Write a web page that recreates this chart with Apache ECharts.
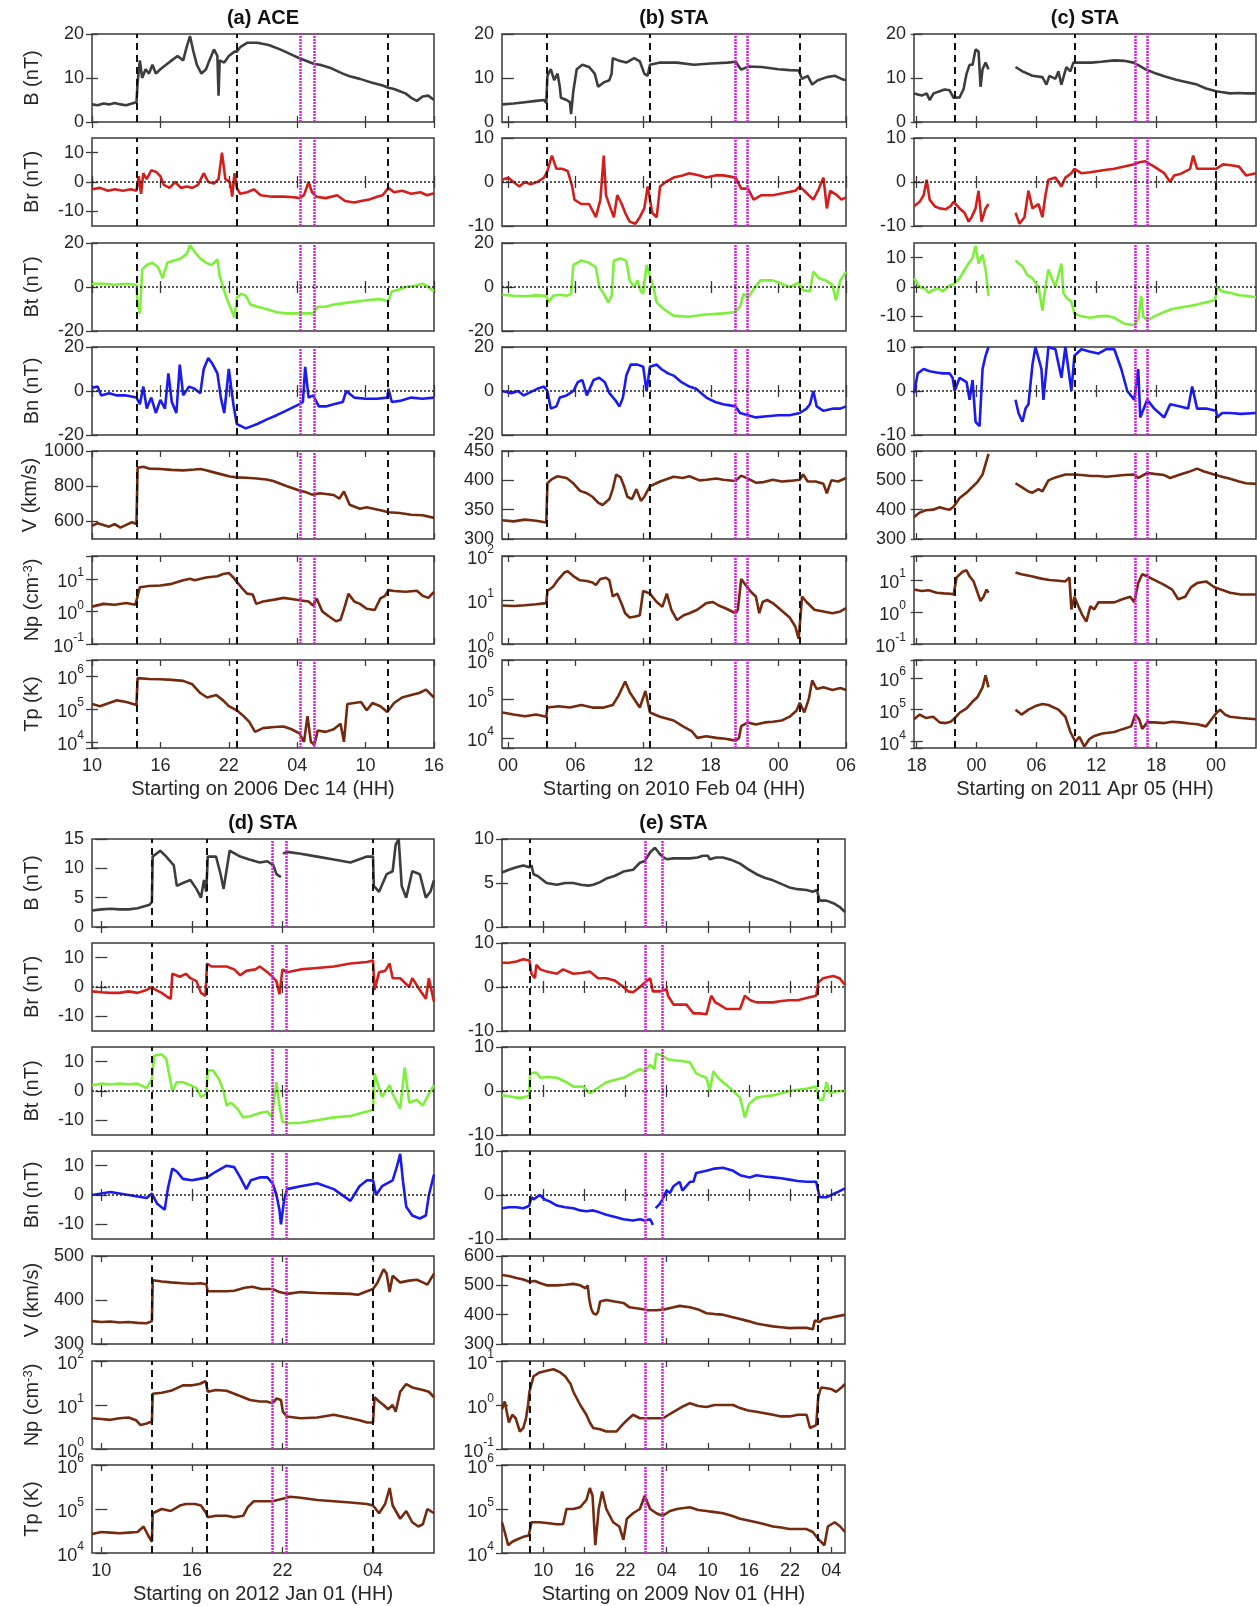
<!DOCTYPE html>
<html><head><meta charset="utf-8">
<script src="https://cdn.jsdelivr.net/npm/echarts@6/dist/echarts.min.js"></script>
<style>html,body{margin:0;padding:0;background:#fff}#c{width:1257px;height:1606px}</style>
</head><body><div id="c"></div>
<script>
// ---------------- DATA (hours from panel start, value) ----------------
// Panel (a) ACE, x: hours from 2006 Dec 14 10:00
const a_B = [[0,4],[0.5,3.8],[1,4.2],[1.5,4],[2,4.3],[2.5,4],[3,3.8],[3.5,4.2],[3.9,4.5],[4,9],[4.2,14],[4.4,10],[4.7,12],[5,11],[5.3,13],[5.6,11],[6,12],[6.5,13],[7,14],[7.5,15],[8,14],[8.3,17],[8.6,19.5],[8.9,16],[9.2,13],[9.6,11],[10,12],[10.3,14],[10.7,16.5],[11,15],[11.1,6],[11.2,14],[11.6,13.5],[12,15],[12.5,16],[12.7,16],[13,17],[13.6,18],[14.5,18],[15.5,17.5],[16.5,16.5],[17.5,15.3],[18.2,14.5],[19.5,13.2],[20,13],[21,12.2],[22,11],[22.6,10.4],[23.5,9.8],[24.5,9],[25.5,8.3],[26,7.8],[26.5,7.5],[27,7],[27.5,6.5],[28,5.5],[28.5,4.8],[29,5.8],[29.5,6],[30,5]];
const a_Br = [[0,-2.5],[0.7,-2],[1.4,-3],[2,-2.5],[2.7,-3],[3.4,-2.5],[3.9,-3],[4.1,2],[4.3,-4],[4.5,3],[4.8,1],[5.2,4],[5.6,3.5],[6,2],[6.3,-1],[6.8,-2],[7.3,0],[7.8,-2],[8.3,-1.5],[8.8,-2],[9.3,-1],[9.8,3],[10.2,0],[10.7,-0.5],[11.1,1],[11.4,10],[11.7,1],[12.1,0],[12.3,-5],[12.5,3],[12.7,-2],[13,-4],[13.6,-3.5],[14.2,-2.5],[14.8,-4.5],[15.8,-5],[16.8,-5],[17.7,-5.2],[18.2,-5.5],[18.6,-4.5],[19,0],[19.3,-3.5],[19.7,-5],[20.5,-5.5],[21.5,-4.5],[22.2,-6.5],[23,-7],[23.6,-6.5],[24.3,-6],[25,-5],[25.5,-4.5],[26,-2],[26.5,-3.5],[27.2,-3],[28,-4],[28.8,-3.5],[29.4,-4.5],[30,-3.8]];
const a_Bt = [[0,1.5],[1,1.5],[2,1],[3,1.5],[3.9,1],[4,-8],[4.2,-12],[4.4,8],[4.8,10],[5.3,11],[5.8,9],[6.2,4],[6.6,11],[7.2,12],[7.8,13],[8.3,15],[8.6,19],[9,16],[9.5,13],[10,11],[10.5,10],[11,12.5],[11.2,5],[11.5,0],[11.8,-5],[12.2,-10],[12.5,-14],[12.7,-5],[13.1,-3],[13.5,-4],[13.9,-8],[14.5,-9],[15.3,-10],[16.2,-11.5],[17,-12],[18.2,-12],[19.4,-12],[19.8,-9],[20.5,-9],[21.2,-8],[22.6,-7],[24.1,-6],[25.2,-5.5],[26,-6.5],[26.3,-2],[27,-1],[27.5,0],[28.3,0.5],[29,1.5],[29.5,0],[30,-2]];
const a_Bn = [[0,1.5],[0.5,2],[0.8,-2],[1.5,-1],[2.2,-2],[3,-2],[3.9,-3],[4.2,-6],[4.5,2],[4.8,-8],[5.2,-3],[5.6,-10],[6,-4],[6.4,-8],[6.7,8],[7,-5],[7.4,-10],[7.7,12],[8,-2],[8.5,2],[9,1],[9.5,-1],[9.8,10],[10.2,15],[10.6,12],[11,8],[11.3,-3],[11.6,-10],[12,10],[12.4,-6],[12.7,-15],[13.5,-17],[14.5,-15],[15.3,-13],[16.2,-11],[17,-9],[18.2,-6],[18.5,-5],[18.7,11],[19,-3],[19.4,-2],[19.9,-7],[20.5,-7],[21.2,-6],[22,-5],[22.3,0],[23,-3],[24,-3.5],[25,-3.5],[25.9,-3],[26,1],[26.3,-5],[27,-4.5],[28,-3],[29,-3.5],[30,-3]];
const a_V = [[0,575],[0.5,590],[1,580],[1.5,570],[2,585],[2.5,565],[3,580],[3.5,595],[3.9,585],[4,905],[4.5,910],[5,900],[6,898],[7,893],[8,890],[9,895],[9.5,898],[10,890],[10.6,880],[11.2,870],[12.1,855],[12.7,850],[13.5,848],[14.2,845],[15.3,838],[15.9,830],[17.1,800],[18.2,775],[18.8,765],[19.3,752],[20,760],[21.2,750],[21.7,730],[22.1,770],[22.6,695],[23.5,672],[24.1,680],[24.8,670],[25.5,660],[26,652],[27,648],[28,638],[29,635],[30,620]];
const a_Np = [[0,1.4],[1,1.7],[2,1.6],[3,1.8],[3.8,1.6],[3.95,2.5],[4.2,5.5],[5,6],[6,6.2],[7,7],[8,9],[8.6,10],[9,9],[10,11],[11,12],[11.5,14],[12,15],[12.4,11],[12.7,8],[13.2,5],[13.6,3.5],[14.1,3.3],[14.4,1.7],[15,2],[16,2.3],[16.8,2.6],[17.5,2.4],[18.2,2.2],[19,2],[19.4,1.5],[19.7,2.5],[20.2,1],[20.8,0.7],[21.4,0.5],[21.8,0.55],[22.2,1.5],[22.5,3.5],[23,2],[23.5,1.7],[24.1,1.2],[24.8,1.1],[25.3,2.5],[25.7,3],[26,4.5],[26.5,4.2],[27.5,4],[28.5,4.3],[29,3],[29.5,2.6],[30,4]];
const a_Tp = [[0,1.4e5],[0.7,1.2e5],[1.5,1.5e5],[2.2,1.8e5],[3,1.6e5],[3.9,1.3e5],[4,8.5e5],[5,8e5],[6,7.8e5],[7,7.5e5],[8,7e5],[8.8,5.5e5],[9.5,3e5],[10.1,2.2e5],[10.9,2.6e5],[11.5,1.8e5],[12,1.2e5],[12.7,9e4],[13.3,6e4],[13.8,4e4],[14.3,2e4],[15,2.6e4],[16,2.8e4],[16.8,2.9e4],[17.5,2.4e4],[18.2,1.8e4],[18.6,1e4],[18.9,6e4],[19.2,1e4],[19.5,8e3],[19.8,2.2e4],[20.5,2e4],[21.2,2.4e4],[21.8,3.5e4],[22.1,1e4],[22.4,1.4e5],[23,1.5e5],[23.6,1.6e5],[24.1,9e4],[24.6,1.5e5],[25.3,1.2e5],[25.9,8e4],[26.5,1.5e5],[27.2,2.2e5],[28,2.6e5],[28.7,3e5],[29.3,3.8e5],[30,2.2e5]];

// Panel (b) STA, x: hours from 2010 Feb 04 00:00
const b_B = [[-0.5,4],[0.5,4.2],[1.5,4.5],[2.5,4.8],[3.2,5],[3.4,4.3],[3.5,10.5],[3.8,12],[4.1,9.5],[4.4,11],[4.6,8],[4.7,5.5],[5.2,5],[5.5,4.5],[5.6,1.8],[5.8,7],[6.1,12],[6.6,13],[7.2,12.5],[7.7,11],[8,8],[8.5,9],[9,9.5],[9.2,11],[9.3,14.5],[9.8,14],[10.5,13.5],[11.2,14.5],[11.7,13.8],[12.1,11],[12.4,10.5],[12.6,13],[13.5,13.5],[15,13.5],[16.5,13],[18,13.3],[19.5,13.5],[20.2,13.7],[20.7,11.9],[21.3,12.6],[22.5,12.5],[24,12],[25,11.8],[25.8,11.7],[26.1,9.8],[26.6,10.5],[27,8.5],[27.5,9.5],[28.3,10.2],[29,10.5],[29.6,9.8],[30,9.5]];
const b_Br = [[-0.5,0.5],[0,1],[0.5,0],[1,-1],[1.5,0],[2,-0.5],[2.6,0],[3.2,1],[3.5,2.5],[3.9,6],[4.3,3],[4.8,3],[5.3,2.5],[5.7,-1],[5.9,-4],[6.5,-5],[7.2,-5],[7.8,-8],[8.2,-4],[8.5,6],[8.7,-3],[9.1,-6],[9.4,-8],[9.7,-3],[10.1,-5],[10.4,-7],[10.8,-9],[11.3,-9.5],[11.7,-8],[12.1,-6],[12.4,-1],[12.8,-7],[13.2,-8],[13.5,-1],[14,0],[14.7,1],[15.5,1.5],[16.1,2],[17,1.5],[17.6,1],[18.4,1.5],[19.1,1.5],[20.2,1],[20.7,-1.5],[21.3,-1.5],[21.8,-4],[22.5,-3],[23.5,-3],[24.5,-2.5],[25.5,-2],[25.9,-1],[26.5,-2.5],[27.1,-4],[27.6,-1.5],[28,1],[28.3,-6],[28.6,-2],[29.2,-3],[29.6,-4],[30,-3.5]];
const b_Bt = [[-0.5,-3.5],[0.5,-4],[1.5,-4.2],[2.5,-3.8],[3.4,-4],[3.6,-7],[4,-4],[4.6,-3.5],[5.2,-4],[5.6,-3],[5.8,10],[6.5,12],[7.2,11],[7.8,9],[8.1,0],[8.5,-3],[8.9,-7],[9.2,-4],[9.4,12],[10,13],[10.5,12],[10.8,3],[11.2,0],[11.5,3],[11.8,-2],[12,-3],[12.3,10],[12.6,5],[12.9,0],[13.2,-7],[13.8,-10],[14.7,-13],[16,-13.5],[17.6,-12.5],[19.1,-12],[20.1,-11.5],[20.6,-9],[20.9,-3],[21.3,-5],[21.8,-1],[22.4,3],[23.5,3],[24.5,1],[25,0],[25.8,2],[26.2,-1.5],[26.8,-2],[27.1,7],[27.6,4],[28.2,3],[28.8,1],[29.1,-6],[29.5,3],[30,7]];
const b_Bn = [[-0.5,0],[0.3,-1],[0.9,0],[1.4,-2],[2,-0.5],[2.6,1],[3.2,2],[3.5,0],[3.8,-8],[4.3,-7],[4.6,-3],[5.2,-2],[5.8,0],[6.2,4],[6.6,5],[7,-2],[7.6,5],[8.1,6],[8.6,4],[9,-1],[9.5,-4],[9.9,-7],[10.2,-3],[10.5,7],[10.9,12],[11.5,12],[12,11],[12.3,0],[12.6,11],[13.2,12],[13.6,10],[14.2,8],[14.7,7],[15.4,4],[16.1,2],[16.7,1],[17.6,-3],[18.4,-5],[19.1,-6],[20.2,-7],[20.6,-10],[21.3,-11],[22,-12],[23,-11.5],[24,-11],[25,-11],[25.9,-10],[26.5,-8],[26.8,-6],[27.1,0],[27.4,-7],[28,-9],[28.9,-8],[29.5,-8],[30,-7]];
const b_V = [[-0.5,332],[0.5,330],[1.5,333],[2.5,331],[3.4,328],[3.5,395],[3.9,402],[4.4,407],[5.2,404],[5.8,395],[6.4,382],[7,378],[7.5,372],[8,362],[8.4,358],[9,368],[9.3,385],[9.6,410],[10,405],[10.3,390],[10.6,372],[11,368],[11.4,385],[11.8,365],[12.1,372],[12.6,390],[13.5,398],[14.7,406],[15.5,404],[16.1,407],[17,400],[17.6,401],[18.5,403],[19.1,401],[20.2,399],[20.7,408],[21.3,403],[22,396],[22.7,397],[23.5,401],[24.3,398],[25,399],[25.9,401],[26.2,410],[26.6,398],[27.3,398],[28,394],[28.3,378],[28.7,400],[29.3,398],[30,404]];
const b_Np = [[-0.5,7.5],[0.5,7.3],[1.5,7.6],[2.5,8],[3.4,8.5],[3.5,16],[4,20],[4.4,28],[5,42],[5.3,45],[5.8,35],[6.4,28],[7,27],[7.5,25],[7.8,22],[8.2,30],[8.7,32],[9,28],[9.3,12],[9.7,14],[10.1,8],[10.4,5],[10.8,4],[11.3,4.2],[11.7,4.5],[12,16],[12.6,14],[13.2,9],[13.7,7],[14.1,14],[14.5,6],[15,3.5],[15.6,4.5],[16.1,5],[16.8,6],[17.6,8.5],[18.2,9],[18.7,7.5],[19.3,6.5],[20.2,5],[20.4,6],[20.7,30],[21.2,20],[21.6,15],[22,12],[22.3,5],[22.6,9],[23,10],[23.5,8.5],[24.2,6],[25,4],[25.5,2.5],[25.8,1.3],[26.1,12],[26.5,9],[27.2,6],[28,5.5],[28.8,5],[29.5,5.5],[30,6.5]];
const b_Tp = [[-0.5,4.5e4],[0.5,4e4],[1.5,3.6e4],[2.5,4e4],[3.4,3.5e4],[3.5,6e4],[4.5,6.5e4],[5.5,6e4],[6.5,7e4],[7.5,6e4],[8.5,6e4],[9.3,7e4],[9.8,1.2e5],[10.4,2.8e5],[10.8,1.5e5],[11.3,9e4],[11.7,6e4],[12.2,1.6e5],[12.6,4.5e4],[13.5,3.5e4],[14.7,2.8e4],[15.5,2e4],[16.3,1.5e4],[16.8,1e4],[17.6,1.1e4],[18.5,1e4],[19.3,9.5e3],[20.2,8.5e3],[20.5,1e4],[20.7,2e4],[21.3,2.5e4],[22,2.2e4],[22.8,2.5e4],[23.5,2.6e4],[24.3,2.8e4],[25,3.5e4],[25.6,5e4],[25.9,8e4],[26.3,4.5e4],[26.7,1e5],[27,3e5],[27.4,1.8e5],[28,2e5],[28.8,1.7e5],[29.5,1.9e5],[30,1.7e5]];

// Panel (c) STA, x: hours from 18:00 (first tick)
const c_B = [[-0.26,6.5],[0.5,6],[1,6.5],[1.3,5],[1.7,6.5],[2.3,7],[2.8,7.4],[3.3,7.2],[3.7,5.5],[4.3,5.6],[4.7,7.5],[5,11],[5.3,13],[5.6,13],[5.9,16.5],[6.2,16],[6.4,8],[6.6,12],[6.9,13.5],[7.2,12],[8.5,null],[9.9,12.5],[10.6,11.5],[11.6,10.5],[12.6,10.2],[13,8.5],[13.3,10.5],[13.9,9.8],[14.2,11.5],[14.5,8.5],[15,12.5],[15.4,11.5],[15.7,13.5],[16.5,13.5],[17.5,13.5],[18.5,13.7],[19.8,14],[20.8,13.9],[21.7,13.5],[22.3,12.8],[22.9,12],[24,11],[24.8,10.4],[26,9.6],[27.2,9],[28.1,8.5],[29,7.6],[30,7],[30.5,6.8],[31.4,6.5],[32.3,6.6],[33,6.5],[34,6.5]];
const c_Br = [[-0.26,-5.5],[0.3,-4.5],[0.7,-3],[1,0.5],[1.3,-4],[1.8,-5.5],[2.3,-6],[2.9,-6.2],[3.4,-5.5],[3.7,-4.5],[4.3,-6],[4.8,-7],[5.2,-9],[5.5,-8],[5.9,-6],[6.2,-2],[6.5,-9],[6.9,-6],[7.2,-5],[8.5,null],[9.9,-7],[10.3,-9.5],[10.8,-8],[11.2,-2],[11.6,-6],[12.2,-5],[12.6,-8],[12.9,-3],[13.2,0.5],[13.9,1],[14.5,-1],[14.9,1],[15.5,2],[15.8,3],[16.5,2],[17.4,2.2],[18.2,2.5],[19,2.8],[19.8,3],[20.8,3.5],[21.7,4],[22.3,4.5],[22.9,4.7],[23.8,3.5],[24.8,2],[25.4,0],[25.8,1.5],[26.4,1.8],[27.4,3],[27.7,6],[28.1,3],[29,3],[30,3],[30.7,4],[31.5,3.8],[32.3,3.5],[33,1.5],[34,2]];
const c_Bt = [[-0.26,3],[0.3,0],[0.8,-0.5],[1.2,-2],[1.65,-1],[2.2,-0.5],[2.6,-1.5],[3.3,0.5],[3.7,1],[4.3,3],[5,7],[5.6,10],[5.9,14],[6.2,8],[6.6,11],[6.9,6],[7.2,-3],[8.5,null],[9.9,9],[10.6,7],[11.1,4],[11.6,3],[12.2,0],[12.6,-8],[12.9,0],[13.2,6],[13.9,0],[14.5,8],[14.7,-2],[15.1,-4],[15.5,-5],[15.8,-9],[16.5,-10],[17.4,-10.5],[18.2,-10],[19,-9.8],[19.8,-10.5],[20.8,-12.5],[21.8,-13],[22.2,-11],[22.5,-3],[22.7,-10],[23.1,-11.5],[23.8,-10],[24.8,-8.5],[25.6,-7.5],[26.4,-7],[27.3,-6.5],[28.1,-6],[29,-5.2],[29.9,-4.5],[30.1,0],[30.6,-1.5],[31.4,-2],[32.3,-2.8],[33,-3],[34,-3.5]];
const c_Bn = [[-0.26,-0.5],[0.1,4],[0.7,5],[1.3,4.5],[2,4.2],[2.6,4],[3.3,4],[3.6,3],[3.8,0],[4.3,3],[5,2],[5.3,-2],[5.6,2.5],[5.9,-7],[6.3,-8],[6.6,5],[6.9,8],[7.2,10],[8.5,null],[9.9,-2],[10.2,-5],[10.6,-7],[10.9,-4],[11.2,-3],[11.6,6],[11.9,10],[12.5,5],[12.7,-2],[13.2,10],[13.9,9.5],[14.5,3],[14.9,10],[15.5,0],[15.8,8],[16.5,9.5],[17.3,9],[18.2,8.5],[19,9.5],[19.8,9.5],[20.5,5],[21.1,0],[21.8,-2],[22.2,5],[22.4,-6],[23.1,-2],[23.8,-4],[24.8,-6],[25.4,-3],[26.4,-3.5],[27.2,-4],[27.6,1],[28.1,-4],[29,-4],[30,-4.5],[30.1,-6],[30.6,-5],[31.4,-5],[32.5,-5.2],[34,-5]];
const c_V = [[-0.26,375],[0.3,390],[0.9,398],[1.65,400],[2.3,408],[2.9,402],[3.3,400],[3.7,410],[4.3,440],[5,458],[5.6,478],[6.1,495],[6.6,520],[6.9,555],[7.2,590],[8.5,null],[9.9,490],[10.6,475],[11.2,462],[11.6,458],[12.2,470],[12.6,462],[13.2,500],[13.9,510],[14.9,520],[15.8,520],[16.5,518],[17.5,515],[18.2,515],[19,512],[19.8,515],[20.8,518],[21.8,520],[22.2,508],[23.1,525],[23.8,522],[24.8,518],[25.4,508],[26.4,520],[27.2,528],[28.1,540],[28.8,530],[29.8,520],[30.5,513],[31.4,505],[32.3,496],[33,490],[34,488]];
const c_Np = [[-0.26,5],[0.5,4.5],[1.2,4.8],[2,4],[2.7,3.8],[3.4,3.7],[3.7,3.5],[4,12],[4.6,18],[5,20],[5.3,13],[5.7,9],[6.1,4],[6.4,2.2],[6.7,3],[7,5],[7.2,4],[8.5,null],[9.9,17],[10.5,15],[11.5,13],[12.5,11],[13.3,10],[14.2,9.5],[14.9,9],[15.3,12],[15.5,1.2],[15.8,3],[16.2,1.5],[16.6,0.8],[17,0.5],[17.4,1.5],[17.8,1.2],[18.2,2],[19,2],[19.8,2],[20.6,2.5],[21.4,3],[21.8,2],[22.2,8],[22.6,15],[23.1,13],[23.8,10],[24.8,7],[25.6,5],[26.2,2.5],[26.9,3],[27.5,6],[28.1,8],[29,9],[29.8,6],[30.5,5],[31.4,4],[32.5,3.5],[34,3.5]];
const c_Tp = [[-0.26,5e4],[0.3,7e4],[0.9,5.5e4],[1.65,6e4],[2.3,4e4],[2.9,3.8e4],[3.4,4.2e4],[3.7,5e4],[4.3,8e4],[5,1.1e5],[5.6,1.8e5],[6.1,2.5e5],[6.6,5e5],[6.9,1.2e6],[7.2,5e5],[8.5,null],[9.9,1e5],[10.5,7e4],[11.2,1e5],[11.9,1.3e5],[12.6,1.5e5],[13.2,1.4e5],[14.2,1e5],[14.9,6e4],[15.4,2e4],[15.9,1e4],[16.3,1.4e4],[16.8,7e3],[17.3,1.2e4],[17.8,1.5e4],[18.6,1.8e4],[19.8,2e4],[20.7,2.5e4],[21.5,3e4],[21.9,7e4],[22.3,5e4],[22.6,2.5e4],[23.1,4e4],[23.8,4e4],[24.8,3.8e4],[25.6,4.2e4],[26.4,4e4],[27.3,3.7e4],[28.1,3.5e4],[29,3e4],[30.05,8e4],[30.4,1e5],[30.9,7e4],[31.4,6e4],[32.5,5.5e4],[34,5e4]];

// Panel (d) STA, x: hours from 2012 Jan 01 10:00
const d_B = [[-0.62,2.8],[0,3],[0.6,3.1],[1.2,3],[1.8,3],[2.4,3.2],[2.8,3.5],[3.2,3.8],[3.35,4.3],[3.4,12],[3.9,13],[4.3,12],[4.8,10.5],[5,7],[5.4,7.5],[5.9,8],[6.3,6.5],[6.6,5],[6.8,8],[6.95,6],[7.05,12],[7.6,12],[7.9,9],[8.1,6.5],[8.5,13],[9.2,12],[9.8,11.5],[10.5,11],[11,11.2],[11.4,10.5],[11.6,9],[11.9,8.5],[11.97,null],[12.03,12.5],[12.3,12.8],[13.2,12.5],[14.3,12],[15.4,11.5],[16.5,11],[17.6,12],[18,12],[18.05,7],[18.4,6],[18.9,9],[19.3,9.5],[19.5,14],[19.7,15],[19.9,7],[20.2,5],[20.6,9.5],[21.1,9],[21.5,5],[21.8,6],[22.04,8]];
const d_Br = [[-0.62,-1.5],[0,-1.8],[0.6,-2],[1.2,-2],[1.8,-1.5],[2.4,-2],[3,-1],[3.35,0],[3.6,-1],[4,-2],[4.4,-3.5],[4.6,-4],[4.7,4.5],[5.2,3.5],[5.6,4.5],[5.9,3],[6.3,2],[6.6,-2],[6.9,-3],[7,8],[7.3,7],[7.7,7],[8.3,7],[8.8,6],[9.2,4],[9.6,5.5],[10.2,6],[10.5,7],[11,5],[11.35,3.5],[11.6,2],[11.8,-2.5],[12,6],[12.3,5],[13.2,6],[14.3,6.5],[15.4,7],[16.5,8],[17.6,8.5],[18,9],[18.1,-1],[18.4,5],[18.8,5.5],[19.1,8],[19.3,3],[19.8,3],[20.4,0],[20.6,3],[21.1,-1],[21.5,-4],[21.7,3],[22.04,-5]];
const d_Bt = [[-0.62,2],[0,2.5],[0.6,2.2],[1.2,2.5],[1.8,2.3],[2.4,2.5],[3,1],[3.35,4],[3.5,12],[4,12.5],[4.3,11],[4.7,0],[5,3],[5.4,3],[5.9,2],[6.3,1],[6.6,-2],[6.95,-1],[7.05,7],[7.4,7],[7.8,4],[8.1,0],[8.3,-5],[8.6,-4],[9,-6],[9.4,-9],[9.9,-8.5],[10.5,-7.5],[11,-7],[11.3,-9],[11.6,3],[11.8,-5],[12,-10.5],[12.4,-11],[13.2,-10.8],[14.3,-10],[15.4,-9],[16.5,-8.5],[17.6,-7],[18,-6.5],[18.1,6],[18.4,1],[18.6,-2],[19.1,2],[19.3,-1],[19.8,-6],[20.1,8],[20.4,-4],[20.9,-3],[21.3,-5],[21.7,-1],[22.04,2]];
const d_Bn = [[-0.62,0],[0,0.5],[0.6,1],[1.2,0.5],[1.8,0],[2.4,-0.5],[3,-1],[3.35,0.5],[3.7,-3],[4.2,-5],[4.4,2],[4.7,9],[5,8],[5.4,5.5],[6,5],[6.5,5.5],[7,6],[7.6,8],[8.3,10],[8.8,9.5],[9.2,6],[9.6,2],[9.9,5],[10.5,6],[11,6],[11.35,4],[11.6,0],[11.8,-5],[11.9,-10],[12.1,-2],[12.3,2],[13.2,3],[14.3,4],[15.4,2],[16.5,-2],[17.1,3],[17.6,5],[18,5],[18.2,0],[18.6,3],[19.3,5],[19.6,10],[19.8,14],[20,4],[20.2,-4],[20.6,-7],[21.1,-8],[21.5,-7],[21.7,0],[22.04,7]];
const d_V = [[-0.62,352],[0,350],[0.6,351],[1.2,349],[1.8,350],[2.4,348],[3,347],[3.35,352],[3.4,445],[4,442],[4.6,440],[5.4,438],[6,437],[6.6,438],[6.95,436],[7.05,420],[7.6,420],[8.3,420],[8.8,421],[9.5,428],[10,430],[10.6,425],[11.35,425],[11.8,418],[12.3,414],[13.2,418],[14.3,416],[15.4,415],[16.5,414],[17,412],[17.6,420],[18,425],[18.3,440],[18.7,470],[18.9,460],[19.1,418],[19.3,455],[19.8,440],[20.4,444],[20.9,446],[21.3,440],[21.6,435],[22.04,460]];
const d_Np = [[-0.62,5],[0,4.8],[0.6,4.6],[1.2,5],[1.8,5.2],[2.3,4.5],[2.6,3.5],[3,3.8],[3.35,4.2],[3.4,18],[4,19],[4.6,21],[5.4,28],[6,28],[6.5,30],[6.9,35],[7.05,20],[7.6,22],[8.3,21],[8.8,18],[9.4,15],[9.85,13],[10.5,12],[10.95,12],[11.35,11],[11.6,14],[11.9,13],[12.03,7],[12.3,5.5],[13.2,5],[14.3,5.2],[15.4,6],[16.5,5],[17.1,4.5],[17.6,4],[18,4],[18.1,15],[18.4,12],[18.7,10],[19,8],[19.3,10],[19.5,7],[19.8,20],[20.2,30],[20.6,25],[21.3,22],[21.7,20],[22.04,15]];
const d_Tp = [[-0.62,2.7e4],[0,3e4],[0.6,2.9e4],[1.2,2.8e4],[1.8,2.9e4],[2.4,3e4],[2.8,4e4],[3.1,2.5e4],[3.35,1.8e4],[3.4,8e4],[4,1e5],[4.6,9e4],[5.2,1.2e5],[5.6,1.3e5],[6.2,1.3e5],[6.6,1.2e5],[6.95,8e4],[7.05,6.5e4],[7.6,7e4],[8.3,7e4],[8.8,6.5e4],[9.4,7e4],[9.7,1.1e5],[10.1,1.5e5],[10.6,1.5e5],[11.35,1.5e5],[12,1.7e5],[12.5,1.9e5],[13.2,1.8e5],[14.3,1.6e5],[15.4,1.5e5],[16.5,1.4e5],[17.6,1.3e5],[18,1.2e5],[18.4,8e4],[18.8,1.3e5],[19.1,3e5],[19.3,1.2e5],[19.8,6e4],[20.2,9e4],[20.6,5e4],[21,4e4],[21.3,4.5e4],[21.6,1e5],[22.04,8e4]];

// Panel (e) STA, x: hours from 2009 Nov 01 04:00
const e_B = [[0,6.2],[1,6.5],[2.1,6.8],[3.1,7],[4,6.8],[4.3,7],[4.6,6],[5.2,5.8],[6.5,5],[8,4.8],[9.2,5],[10.4,5],[11.5,4.8],[12.6,4.7],[13.3,4.8],[14.3,5.1],[15.2,5.5],[16.4,5.8],[17.7,6.3],[19.1,6.5],[20.1,7.3],[20.8,7.5],[21.6,8.5],[22.3,9],[23,8.3],[23.4,8],[24,7.7],[25,7.8],[26.2,7.8],[27.4,7.8],[28.5,7.9],[29.3,8.1],[30,8.1],[30.3,7.7],[31.2,7.9],[32.2,7.9],[33.5,7.6],[34.7,7.2],[35.8,6.6],[37.1,6],[38.3,5.6],[39.5,5.3],[40.7,4.9],[41.9,4.5],[43.1,4.3],[44.4,4.2],[45.3,4],[45.9,4.2],[46.3,3],[47.3,3],[48.3,2.7],[49.2,2.3],[50,1.7]];
const e_Br = [[0,5.5],[1,5.5],[2.1,5.8],[3.1,6.3],[4,6],[4.3,3],[4.8,2],[5,5],[5.6,4],[6.5,3.5],[8,3],[8.9,4],[10.4,3],[11.6,3.2],[12.8,3.5],[14,2],[15.2,2],[16.4,1.5],[17.7,0],[18.4,-1],[19.1,-1.2],[20.1,0],[20.8,1],[21.6,2],[22,-1],[23,-1],[24,-0.5],[24.2,-2],[25,-4],[25.9,-4],[26.9,-4],[27.4,-5],[27.9,-6],[28.8,-6],[29.8,-6.2],[30.5,-2],[31.1,-3.5],[31.7,-4],[32.7,-5],[33.7,-5],[34.7,-5],[35.4,-2],[36.2,-3],[37.1,-3.5],[38.3,-3.5],[39.5,-3.5],[40.7,-3.2],[41.9,-3],[43.1,-3],[44.4,-2.5],[45.8,-2],[46.1,1],[46.8,2],[48.3,2.5],[49.2,2],[50,0.5]];
const e_Bt = [[0,-1],[1,-1.2],[2.1,-1.5],[3.1,-1.5],[3.95,-1],[4.1,4],[5,4.2],[5.6,3],[6.5,3.2],[8,3],[9.4,2],[10.4,1],[11.8,1],[12.8,-0.5],[13.8,0.5],[15.2,2],[16.4,2.5],[17.7,3],[18.9,4],[20.1,5],[20.8,4.5],[21.6,6],[22.2,5],[22.5,8.5],[23.4,8],[24.2,7.2],[25,7],[26.2,6.8],[27.4,6.5],[28.3,4],[29,3.5],[29.8,3],[30.3,0],[30.8,4.5],[31.5,3],[32.2,2],[33,1],[33.7,0],[34.7,-1.5],[35.4,-6],[36,-3],[37.1,-1.5],[38.3,-1.2],[39.5,-1],[40.7,-0.5],[41.9,0],[43.1,0.3],[44.4,0.5],[45.8,1],[46.2,-2],[46.8,-2],[47.3,2],[47.8,-0.5],[49,0],[50,0]];
const e_Bn = [[0,-3],[1,-2.8],[2.1,-2.8],[3.1,-3],[3.95,-2.5],[4.3,-0.5],[4.6,-1],[5.5,0],[6.2,-1],[7,-1.5],[8,-2.4],[9.2,-2.8],[10.4,-3],[11.4,-3.5],[12.3,-3.7],[13.3,-3.5],[14.3,-4],[15.2,-4.5],[16.5,-5],[17.7,-5.5],[19.1,-5.8],[20.1,-5.5],[20.8,-5.8],[21.6,-5.5],[22,-6.8],[22.2,null],[22.4,-3],[23,-2],[23.4,-1],[24,1],[24.5,0.5],[25,2],[25.9,3],[26.3,1],[27.4,3],[27.9,3],[28.3,5],[29.8,5.5],[31,6],[32.2,6.2],[33.7,5.5],[34.7,4.5],[35.5,4.2],[36.1,4],[37.1,4.5],[38.3,4.2],[39.5,4],[40.7,3.8],[41.9,3.5],[43.1,3.2],[44.4,3],[45.8,3],[46.3,-0.5],[47.3,-0.5],[48.7,0.5],[50,1.5]];
const e_V = [[0,535],[1,532],[2.1,525],[3.1,520],[4,512],[4.8,515],[5.5,508],[6.5,500],[8,500],[9.2,502],[10.4,505],[11.4,500],[12.2,490],[12.5,500],[12.7,455],[13,420],[13.3,405],[13.7,400],[14,410],[14.3,445],[15.2,450],[16.4,445],[17.7,440],[18.6,425],[20.1,420],[21.3,415],[22.5,415],[23.7,418],[25,425],[25.9,430],[27.4,425],[28.6,418],[29.8,405],[31,402],[32.2,400],[33.5,392],[34.7,385],[35.9,378],[37.1,370],[38.3,365],[39.5,360],[40.7,357],[41.9,354],[43.1,355],[44.4,355],[45.3,350],[45.6,380],[46.3,375],[46.8,385],[48,390],[49,395],[50,400]];
const e_Np = [[0,0.8],[0.4,1.2],[1,0.4],[1.5,0.6],[2,0.5],[2.6,0.25],[3.1,0.3],[3.5,0.5],[3.8,1],[4,2],[4.6,4.5],[5.5,5.5],[6.5,6],[7.5,6.5],[8.5,5.5],[9.2,4.5],[10,3],[10.4,2],[11.4,1],[12.3,0.6],[12.8,0.4],[13.3,0.3],[14.3,0.28],[15.2,0.25],[16,0.25],[16.7,0.25],[17.5,0.35],[18.2,0.45],[19.1,0.6],[20.1,0.5],[21.3,0.5],[22.5,0.5],[23.5,0.5],[24.3,0.6],[25,0.7],[26.2,0.9],[27.4,1.1],[28.6,0.95],[29.8,0.9],[31,1],[32.2,1],[33.7,1],[34.7,0.85],[35.9,0.75],[37.1,0.7],[38.3,0.65],[39.5,0.6],[40.7,0.55],[41.9,0.55],[43.1,0.6],[44.4,0.6],[44.9,0.3],[45.8,0.35],[46.1,1.5],[46.5,2.5],[47.3,2.4],[48,2.3],[48.7,2],[49.5,2.5],[50,3]];
const e_Tp = [[0,5e4],[0.4,3e4],[0.9,1.5e4],[1.5,1.8e4],[2.1,2e4],[3,2.3e4],[3.9,2.5e4],[4.3,5e4],[5.5,5e4],[6.5,4.8e4],[8,4.5e4],[8.9,4.5e4],[9.4,1e5],[10.4,1e5],[11.4,1.1e5],[12.3,1.6e5],[12.8,3e5],[13.2,2e5],[13.6,1.5e4],[14.1,1e5],[14.6,2.5e5],[15.2,1e5],[16.2,5e4],[17.1,4e4],[17.7,2e4],[18.2,6e4],[19.1,8e4],[20.1,1e5],[20.8,2e5],[21.6,1e5],[22.5,8e4],[23.4,7e4],[24.5,9e4],[25.5,1e5],[26.5,1.05e5],[27.4,1.1e5],[28.6,9.5e4],[29.8,9e4],[31,8.5e4],[32.2,8e4],[33.5,7e4],[34.7,6e4],[35.9,5.5e4],[37.1,5e4],[38.3,4.5e4],[39.5,4e4],[40.7,3.8e4],[41.9,3.5e4],[43.1,3.5e4],[44.4,3.5e4],[45.3,3e4],[46.2,2e4],[47,1.5e4],[47.5,4e4],[48.5,5e4],[49.3,4e4],[50,3e4]];

// ---------------- AXES / TICKS / EVENT LINES ----------------
const compNames = ['B (nT)','Br (nT)','Bt (nT)','Bn (nT)','V (km/s)','Np (cm{sup|-3})','Tp (K)'];
const titles = ['(a) ACE','(b) STA','(c) STA','(d) STA','(e) STA'];
const xNames = ['Starting on 2006 Dec 14 (HH)','Starting on 2010 Feb 04 (HH)','Starting on 2011 Apr 05 (HH)','Starting on 2012 Jan 01 (HH)','Starting on 2009 Nov 01 (HH)'];
const xRanges = [[0,30],[-0.53,30],[-0.27,34],[-0.62,22.04],[0,50]];
const xTickVals = [[0,6,12,18,24,30],[0,6,12,18,24,30],[0,6,12,18,24,30],[0,6,12,18],[6,12,18,24,30,36,42,48]];
const xTickLabels = [['10','16','22','04','10','16'],['00','06','12','18','00','06'],['18','00','06','12','18','00'],['10','16','22','04'],['10','16','22','04','10','16','22','04']];
const dashedTimes = [[3.94,12.69,25.97],[3.46,12.56,25.86],[3.77,15.83,30],[3.35,6.98,18.0],[3.98,45.97]];
const magentaTimes = [[18.24,19.47],[20.16,21.25],[21.9,23.1],[11.35,12.27],[20.83,23.4]];
const yRanges = [
  [[0,20],[-15,15],[-20,20],[-20,20],[500,1000],[0.1,50],[6.5e3,3e6]],
  [[0,20],[-10,10],[-20,20],[-20,20],[300,450],[1,100],[5.5e3,1e6]],
  [[0,20],[-10,10],[-15,15],[-10,10],[300,600],[0.1,56],[6.3e3,3.6e6]],
  [[0,15],[-15,15],[-15,15],[-15,15],[300,500],[1,100],[1e4,1e6]],
  [[0,10],[-10,10],[-10,10],[-10,10],[300,600],[0.1,10],[1e4,1e6]]
];
const yTickVals = [
  [[0,10,20],[-10,0,10],[-20,0,20],[-20,0,20],[600,800,1000]],
  [[0,10,20],[-10,0,10],[-20,0,20],[-20,0,20],[300,350,400,450]],
  [[0,10,20],[-10,0,10],[-10,0,10],[-10,0,10],[300,400,500,600]],
  [[0,5,10,15],[-10,0,10],[-10,0,10],[-10,0,10],[300,400,500]],
  [[0,5,10],[-10,0,10],[-10,0,10],[-10,0,10],[300,400,500,600]]
];
const seriesData = [
  [a_B,a_Br,a_Bt,a_Bn,a_V,a_Np,a_Tp],
  [b_B,b_Br,b_Bt,b_Bn,b_V,b_Np,b_Tp],
  [c_B,c_Br,c_Bt,c_Bn,c_V,c_Np,c_Tp],
  [d_B,d_Br,d_Bt,d_Bn,d_V,d_Np,d_Tp],
  [e_B,e_Br,e_Bt,e_Bn,e_V,e_Np,e_Tp]
];

// ---------------- LAYOUT / STYLE ----------------
const colors = ['#3d3d3d','#d21f1b','#7cf03a','#1a1af2','#742a0e','#742a0e','#742a0e'];
const panelBox = [[92,434],[502,846],[914,1256],[92,434],[502,845]];
const rowTopsUpper = [34,138,243,347,451,556,660];
const rowTopsLower = [839,943,1047,1151,1256,1361,1465];
const plotH = 88;
const showYName = [true,false,false,true,false];
const FONT = '"Liberation Sans", Arial, Helvetica, sans-serif';
const TXT = '#262626';
const FRAME = '#3a3a3a';

const grid=[], xAxis=[], yAxis=[], series=[], title=[];
let gi = 0;
function logFmt(v){
  const e = Math.log10(v), r = Math.round(e);
  if (Math.abs(e-r) > 1e-6) return '';
  return '{b|10}{s|' + r + '}';
}
for (let p=0;p<5;p++){
  const [L,R] = panelBox[p];
  const tops = p<3 ? rowTopsUpper : rowTopsLower;
  title.push({text:titles[p], left:(L+R)/2, top: tops[0]-26, textAlign:'center', padding:0,
    textStyle:{fontSize:20, fontWeight:'bold', color:'#111', fontFamily:FONT}});
  for (let k=0;k<7;k++){
    const isBottom = k===6;
    const isLog = k>=5;
    grid.push({left:L, top:tops[k], width:R-L, height:plotH, show:true, borderColor:FRAME, borderWidth:1.5, backgroundColor:'rgba(0,0,0,0)'});
    const xt = xTickVals[p], xl = xTickLabels[p];
    const tickStyle = {show:true, inside:true, length:6, customValues:xt, lineStyle:{color:FRAME, width:1.3}};
    xAxis.push({type:'value', gridIndex:gi, position:'bottom', min:xRanges[p][0], max:xRanges[p][1],
      axisLine:{show:false}, splitLine:{show:false}, axisTick:tickStyle,
      axisLabel:{show:isBottom, customValues:xt, margin:9, fontSize:18, color:TXT, fontFamily:FONT,
        formatter:(v)=>{const i=xt.findIndex(t=>Math.abs(t-v)<1e-6); return i>=0?xl[i]:'';}},
      name:isBottom?xNames[p]:'', nameLocation:'middle', nameGap:31,
      nameTextStyle:{fontSize:20, color:TXT, fontFamily:FONT}});
    xAxis.push({type:'value', gridIndex:gi, position:'top', min:xRanges[p][0], max:xRanges[p][1],
      axisLine:{show:false}, splitLine:{show:false}, axisTick:tickStyle, axisLabel:{show:false}});
    const [ymin,ymax] = yRanges[p][k];
    let yMain, yMirror;
    const nameStyle = {fontSize:20, color:TXT, fontFamily:FONT, rich:{sup:{fontSize:13, verticalAlign:'top', lineHeight:12, color:TXT, fontFamily:FONT}}};
    if (isLog){
      yMain = {type:'log', logBase:10, gridIndex:gi, position:'left', min:ymin, max:ymax,
        axisLine:{show:false}, splitLine:{show:false},
        axisTick:{show:true, inside:true, length:6, lineStyle:{color:FRAME, width:1.3}},
        minorTick:{show:false},
        axisLabel:{margin:8, formatter:logFmt, color:TXT, fontFamily:FONT,
          rich:{b:{fontSize:18, color:TXT, fontFamily:FONT, lineHeight:24, verticalAlign:'bottom'},
                s:{fontSize:12, color:TXT, fontFamily:FONT, lineHeight:12, verticalAlign:'top'}}}};
      yMirror = {type:'log', logBase:10, gridIndex:gi, position:'right', min:ymin, max:ymax,
        axisLine:{show:false}, splitLine:{show:false},
        axisTick:{show:true, inside:true, length:6, lineStyle:{color:FRAME, width:1.3}}, axisLabel:{show:false}};
    } else {
      const yt = yTickVals[p][k];
      yMain = {type:'value', gridIndex:gi, position:'left', min:ymin, max:ymax,
        axisLine:{show:false}, splitLine:{show:false},
        axisTick:{show:true, inside:true, length:6, customValues:yt, lineStyle:{color:FRAME, width:1.3}},
        axisLabel:{customValues:yt, margin:8, fontSize:18, color:TXT, fontFamily:FONT, formatter:(v)=>String(v)}};
      yMirror = {type:'value', gridIndex:gi, position:'right', min:ymin, max:ymax,
        axisLine:{show:false}, splitLine:{show:false},
        axisTick:{show:true, inside:true, length:6, customValues:yt, lineStyle:{color:FRAME, width:1.3}}, axisLabel:{show:false}};
    }
    if (showYName[p]){
      yMain.name = compNames[k]; yMain.nameLocation='middle'; yMain.nameGap=50; yMain.nameRotate=90;
      yMain.nameTextStyle = nameStyle;
    }
    yAxis.push(yMain); yAxis.push(yMirror);

    const mlData = [];
    dashedTimes[p].forEach(t=>mlData.push({xAxis:t, lineStyle:{type:[7,5], color:'#111', width:2}}));
    magentaTimes[p].forEach(t=>mlData.push({xAxis:t, lineStyle:{type:[2,1], color:'#e31ce3', width:2.5}}));
    if (k>=1 && k<=3) mlData.push({yAxis:0, lineStyle:{type:[2,2], color:'#222', width:1.5}});
    series.push({type:'line', xAxisIndex:2*gi, yAxisIndex:2*gi, data:seriesData[p][k],
      showSymbol:false, symbol:'none', connectNulls:false, clip:true,
      lineStyle:{color:colors[k], width:2.6}, itemStyle:{color:colors[k]},
      markLine:{silent:true, symbol:['none','none'], label:{show:false}, animation:false, data:mlData}});
    gi++;
  }
}

const chart = echarts.init(document.getElementById('c'), null, {renderer:'canvas'});
chart.setOption({animation:false, backgroundColor:'#fff', textStyle:{fontFamily:FONT},
  title, grid, xAxis, yAxis, series});
</script></body></html>
